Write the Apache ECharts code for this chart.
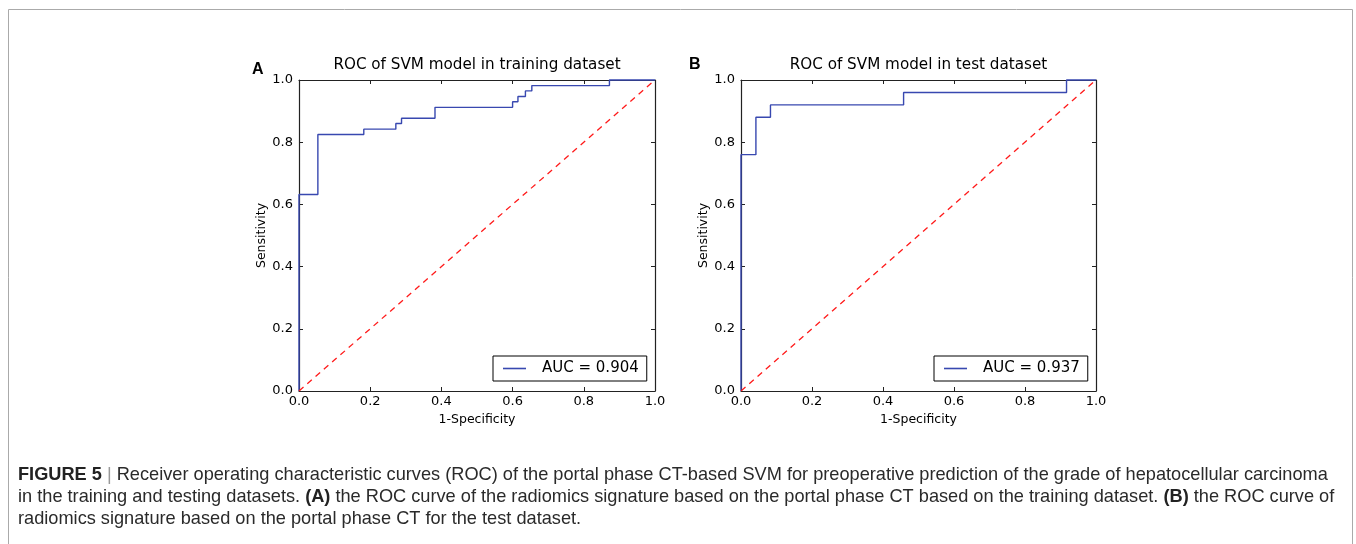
<!DOCTYPE html>
<html>
<head>
<meta charset="utf-8">
<script src="https://cdn.jsdelivr.net/npm/echarts@6/dist/echarts.min.js"></script>
<style>
  html, body { margin: 0; padding: 0; background: #fff; }
  #chart { width: 1356px; height: 544px; }
</style>
</head>
<body>
<div id="chart"></div>
<script>
// ROC points (fpr, tpr)
const fprA = [0, 0, 0.053, 0.053, 0.182, 0.182, 0.272, 0.272, 0.288, 0.288, 0.382, 0.382, 0.600, 0.600, 0.615, 0.615, 0.636, 0.636, 0.654, 0.654, 0.872, 0.872, 1.0]
const tprA = [0, 0.632, 0.632, 0.825, 0.825, 0.842, 0.842, 0.860, 0.860, 0.877, 0.877, 0.912, 0.912, 0.930, 0.930, 0.947, 0.947, 0.965, 0.965, 0.982, 0.982, 1.0, 1.0]
const fprB = [0, 0, 0.042, 0.042, 0.083, 0.083, 0.458, 0.458, 0.917, 0.917, 1.0]
const tprB = [0, 0.76, 0.76, 0.88, 0.88, 0.92, 0.92, 0.96, 0.96, 1.0, 1.0]
const chanceX = [0, 1]
const chanceY = [0, 1]

const titles = ['ROC of SVM model in training dataset', 'ROC of SVM model in test dataset']
const panelLetters = ['A', 'B']
const legendNames = ['AUC = 0.904', 'AUC = 0.937']
const xName = '1-Specificity'
const yName = 'Sensitivity'

const captionLines = [
  '{b|FIGURE 5} {s||} Receiver operating characteristic curves (ROC) of the portal phase CT-based SVM for preoperative prediction of the grade of hepatocellular carcinoma',
  'in the training and testing datasets. {b|(A)} the ROC curve of the radiomics signature based on the portal phase CT based on the training dataset. {b|(B)} the ROC curve of',
  'radiomics signature based on the portal phase CT for the test dataset.'
]

const FONT = 'DejaVu Sans'
const grids = [
  { left: 299, top: 80, width: 356, height: 311 },
  { left: 741, top: 80, width: 355, height: 311 }
]

const zip = (xs, ys) => xs.map((x, i) => [x, ys[i]])

const xAxes = []
const yAxes = []
grids.forEach((g, gi) => {
  const base = {
    type: 'value', min: 0, max: 1, interval: 0.2, gridIndex: gi,
    axisLine: { show: true, onZero: false, lineStyle: { color: '#222', width: 1.2 } },
    axisTick: { show: true, inside: true, length: 4, lineStyle: { color: '#222' } },
    splitLine: { show: false },
    axisLabel: { show: true, color: '#000', fontFamily: FONT, fontSize: 13, formatter: v => v.toFixed(1) },
    nameTextStyle: { color: '#000', fontFamily: FONT, fontSize: 12.5 }
  }
  xAxes.push(Object.assign({}, base, { position: 'bottom', name: xName, nameLocation: 'middle', nameGap: 22,
    axisLabel: Object.assign({}, base.axisLabel, { margin: 4 }) }))
  xAxes.push(Object.assign({}, base, { position: 'top', axisLabel: { show: false } }))
  yAxes.push(Object.assign({}, base, { position: 'left', name: yName, nameLocation: 'middle', nameGap: 31,
    axisLabel: Object.assign({}, base.axisLabel, { margin: 6 }) }))
  yAxes.push(Object.assign({}, base, { position: 'right', axisLabel: { show: false } }))
})

const rocStyle = { color: '#3848b0', width: 1.4 }
const chanceStyle = { color: '#ff1a1a', width: 1.3, type: [6, 5] }

const series = [
  { name: legendNames[0], type: 'line', xAxisIndex: 0, yAxisIndex: 0, data: zip(fprA, tprA),
    symbol: 'none', lineStyle: rocStyle, itemStyle: { color: rocStyle.color }, animation: false, clip: false },
  { name: 'chanceA', type: 'line', xAxisIndex: 0, yAxisIndex: 0, data: zip(chanceX, chanceY),
    symbol: 'none', lineStyle: chanceStyle, animation: false },
  { name: legendNames[1], type: 'line', xAxisIndex: 2, yAxisIndex: 2, data: zip(fprB, tprB),
    symbol: 'none', lineStyle: rocStyle, itemStyle: { color: rocStyle.color }, animation: false, clip: false },
  { name: 'chanceB', type: 'line', xAxisIndex: 2, yAxisIndex: 2, data: zip(chanceX, chanceY),
    symbol: 'none', lineStyle: chanceStyle, animation: false }
]

const legendCommon = {
  orient: 'vertical', top: 356, padding: [5, 8, 5, 10],
  borderColor: '#000', borderWidth: 1, borderRadius: 0, backgroundColor: '#fff',
  icon: 'rect', itemWidth: 23, itemHeight: 1.6, selectedMode: false,
  textStyle: { color: '#000', fontFamily: FONT, fontSize: 15, padding: [0, 0, 0, 11] }
}

const legends = [
  Object.assign({}, legendCommon, { left: 493, data: [legendNames[0]] }),
  Object.assign({}, legendCommon, { left: 934, data: [legendNames[1]] })
]

const titleComps = grids.map((g, i) => ({
  text: titles[i], left: g.left + g.width / 2, top: 58, textAlign: 'center', padding: 0,
  textStyle: { color: '#000', fontFamily: FONT, fontSize: 15.2, fontWeight: 'normal' }
}))

const captionRich = {
  b: { fontWeight: 'bold', fontFamily: 'Liberation Sans', fontSize: 18.2, fill: '#222' },
  s: { fontFamily: 'Liberation Sans', fontSize: 18.2, fill: '#999' }
}

const graphic = [
  { type: 'rect', shape: { x: 8.5, y: 9.5, width: 1344, height: 600 },
    style: { fill: 'none', stroke: '#aaa', lineWidth: 1 }, silent: true },
  { type: 'text', left: 252, top: 62, style: { text: panelLetters[0], font: 'bold 16px "Liberation Sans"', fill: '#000' } },
  { type: 'text', left: 689, top: 57, style: { text: panelLetters[1], font: 'bold 16px "Liberation Sans"', fill: '#000' } }
].concat(captionLines.map((t, i) => ({
  type: 'text', left: 18, top: 466 + i * 22,
  style: { text: t, font: '18.2px "Liberation Sans"', fill: '#2a2a2a', rich: captionRich }
})))

const chart = echarts.init(document.getElementById('chart'))
chart.setOption({
  backgroundColor: '#fff',
  animation: false,
  title: titleComps,
  legend: legends,
  grid: grids.map(g => Object.assign({ containLabel: false }, g)),
  xAxis: xAxes,
  yAxis: yAxes,
  series: series,
  graphic: graphic
})
</script>
</body>
</html>
